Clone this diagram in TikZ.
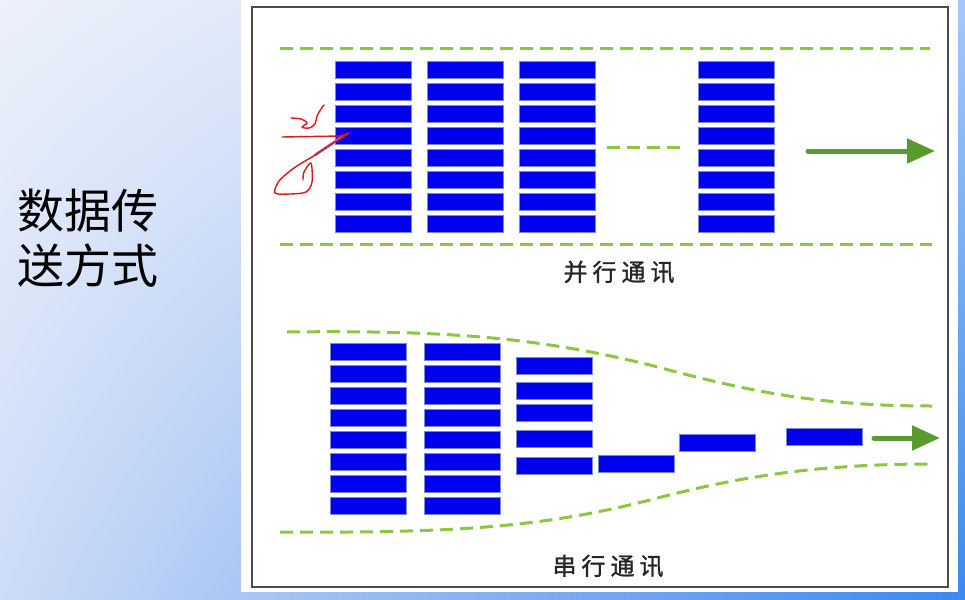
\documentclass[tikz,border=0pt]{standalone}
\usepackage{fontspec}
\newfontfamily\cjk{Noto Sans CJK SC}
\newfontfamily\cjkl[FakeBold=1.2]{Noto Sans CJK SC}
\usetikzlibrary{arrows.meta,shadings}
\definecolor{blkfill}{RGB}{0,0,238}
\definecolor{blkedge}{RGB}{120,140,205}
\definecolor{dashgreen}{RGB}{141,198,63}
\definecolor{arrgreen}{RGB}{90,155,48}
\definecolor{bgA}{RGB}{236,241,250}
\definecolor{bgB}{RGB}{226,234,249}
\definecolor{bgC}{RGB}{205,220,247}
\definecolor{bgD}{RGB}{170,198,245}
\definecolor{stripT}{RGB}{165,200,248}
\definecolor{stripB}{RGB}{60,138,240}
\definecolor{scrib}{RGB}{230,20,20}
\definecolor{pen}{RGB}{140,110,190}
\begin{document}
\begin{tikzpicture}[x=1pt,y=-1pt,
  blk/.style={draw=blkedge,fill=blkfill,line width=1.2pt,minimum width=76pt,minimum height=17pt,inner sep=0pt,anchor=north west},
  gdash/.style={draw=dashgreen,line width=3pt,dash pattern=on 13pt off 7pt},
  garrow/.style={draw=arrgreen,line width=5pt,line cap=round,-{Triangle[length=28pt,width=24pt]}},
  lbl/.style={font=\cjkl\fontsize{24}{27}\selectfont,text=black!85,inner sep=0pt},
  scr/.style={draw=scrib,line width=1.4pt,line cap=round,line join=round}]
\useasboundingbox (0,0) rectangle (965,599);
% background
\shade[upper left=bgA,upper right=bgB,lower left=bgC,lower right=bgD] (0,0) rectangle (241,599);
\shade[top color=stripT,bottom color=stripB] (958,0) rectangle (965,599);
\shade[left color=bgD,right color=stripB] (241,592) rectangle (958,599);
\fill[white] (241,0) rectangle (958,592);
\draw[black!70,line width=1.3pt] (252,7) rectangle (948,587);
% title
\node[font=\cjk\fontsize{47}{55}\selectfont,align=left,anchor=west,inner sep=0pt] (title) at (17,238) {数据传\\送方式};
% parallel
\coordinate (pt1) at (280,49); \coordinate (pt2) at (930,49);
\coordinate (pb1) at (280,244); \coordinate (pb2) at (932,244);
\draw[gdash] (pt1) -- (pt2);
\draw[gdash] (pb1) -- (pb2);
\foreach \c/\x in {1/335,2/427,3/519,4/698}{
  \foreach \r in {0,...,7}{
    \node[blk] (p\c r\r) at (\x,{61+22*\r}) {};
  }
}
\coordinate (pm1) at (607,147); \coordinate (pm2) at (680,147);
\draw[gdash] (pm1) -- (pm2);
\coordinate (pa1) at (808,151); \coordinate (pa2) at (935,151);
\draw[garrow] (pa1) -- (pa2);
\node[lbl] (plbl) at (619,272) {并\hspace{5pt}行\hspace{5pt}通\hspace{5pt}讯};
% serial
\coordinate (st1) at (287,332); \coordinate (st2) at (932,406);
\coordinate (sb1) at (280,532); \coordinate (sb2) at (932,464);
\draw[gdash] (st1) .. controls (450,330) and (540,338) .. (650,365) .. controls (750,392) and (820,406) .. (st2);
\draw[gdash] (sb1) .. controls (450,533) and (540,528) .. (650,500) .. controls (740,476) and (820,464) .. (sb2);
\foreach \c/\x in {1/330,2/424}{
  \foreach \r in {0,...,7}{
    \node[blk] (s\c r\r) at (\x,{343+22*\r}) {};
  }
}
\foreach \r/\y in {0/357,1/382,2/404,3/430,4/457}{
  \node[blk] (s3r\r) at (516,\y) {};
}
\node[blk] (s4) at (598,455) {};
\node[blk] (s5) at (679,434) {};
\node[blk] (s6) at (786,428) {};
\coordinate (sa1) at (874,438); \coordinate (sa2) at (940,438);
\draw[garrow] (sa1) -- (sa2);
\node[lbl] (slbl) at (608,566) {串\hspace{5pt}行\hspace{5pt}通\hspace{5pt}讯};
% red handwriting
\draw[scr] plot[smooth,tension=0.6] coordinates {(291,118) (301,119) (307,123) (302,127) (309,128) (315,124) (317,116) (321,109) (324,105)};
\draw[pen,line width=2.6pt,line cap=round] (343,136) -- (315,155);
\draw[scr] (282,137) -- (340,136) -- (349,133) -- (312,157);
\draw[scr] plot[smooth,tension=0.5] coordinates {(312,157) (294,168) (279,181) (275,193) (290,194) (306,192) (312,182) (311,163) (304,172) (303,180)};
\end{tikzpicture}
\end{document}
